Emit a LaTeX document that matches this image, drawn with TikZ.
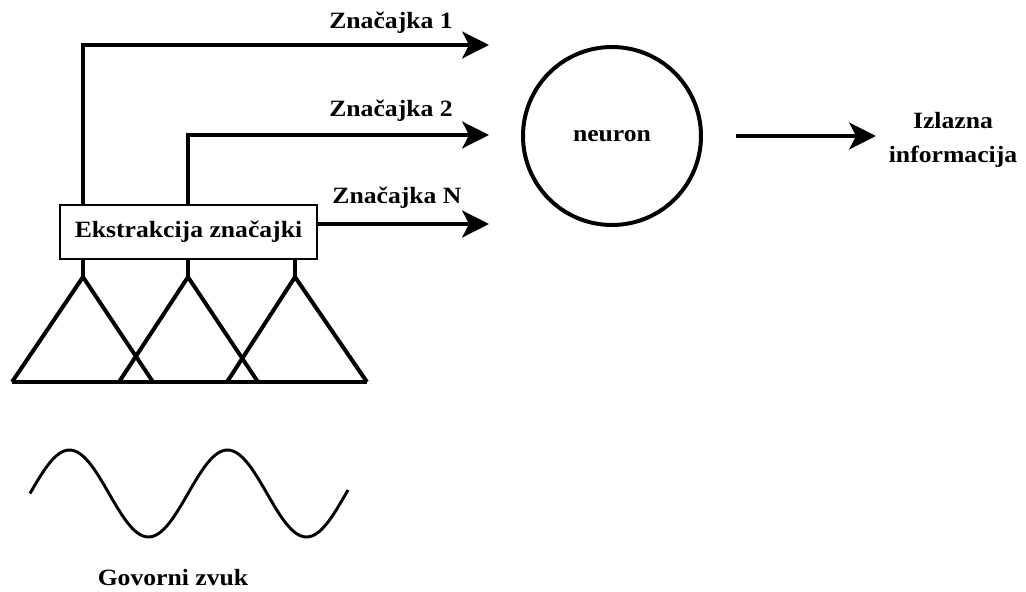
\documentclass[tikz,border=0pt]{standalone}
\usepackage{fontspec}
\setmainfont{Liberation Serif}[FakeStretch=1.1]
\usetikzlibrary{arrows.meta}
\begin{document}
\begin{tikzpicture}[x=0.75pt,y=-0.75pt,
  lbl/.style={font=\fontsize{17.5}{25}\selectfont\bfseries, inner sep=0pt, align=center},
  boxstyle/.style={draw, line width=1.8pt, minimum width=192.75pt, minimum height=40.5pt, inner sep=0pt, font=\fontsize{17.5}{20}\selectfont\bfseries},
  thk/.style={line width=3pt, line join=miter},
  arr/.style={line width=3pt, -{Stealth[length=20pt,width=20pt,inset=5pt]}}]
\useasboundingbox (0,0) rectangle (1026,592);

% feature extraction box
\node[boxstyle] (ext) at (188.5,232) {Ekstrakcija značajki};

% feature outputs
\coordinate (c1) at (83,45);
\coordinate (t1) at (489,45);
\coordinate (c2) at (188,135);
\coordinate (t2) at (489,135);
\coordinate (tN) at (489,224);
\draw[arr] (ext.north -| c1) -- (c1) -- (t1);
\draw[arr] (ext.north -| c2) -- (c2) -- (t2);
\draw[arr] (ext.east |- tN) -- (tN);

\node[lbl] (f1) at (391,23) {Značajka 1};
\node[lbl] (f2) at (391,111) {Značajka 2};
\node[lbl] (fN) at (397,198) {Značajka N};

% triangular filters
\coordinate (a1) at (83,277);
\coordinate (a2) at (188,277);
\coordinate (a3) at (295,277);
\coordinate (b1l) at (12,382);
\coordinate (b1r) at (153,382);
\coordinate (b2l) at (119,382);
\coordinate (b2r) at (258,382);
\coordinate (b3l) at (227,382);
\coordinate (b3r) at (367,382);
\draw[thk] (ext.south -| a1) -- (a1);
\draw[thk] (ext.south -| a2) -- (a2);
\draw[thk] (ext.south -| a3) -- (a3);
\draw[thk] (b1l) -- (a1) -- (b1r);
\draw[thk] (b2l) -- (a2) -- (b2r);
\draw[thk] (b3l) -- (a3) -- (b3r);
\draw[thk] (b1l) -- (b3r);

% neuron
\node[circle, draw, line width=3pt, minimum size=133.5pt, inner sep=0pt, font=\fontsize{17.5}{20}\selectfont\bfseries] (neu) at (612,136) {neuron};
\coordinate (o1) at (736,136);
\coordinate (o2) at (876,136);
\draw[arr] (o1) -- (o2);
\node[lbl] (out) at (953,140) {Izlazna\\informacija};

% speech sound
\draw[line width=2.2pt, smooth, samples=120, domain=30:348] plot (\x, {493.5-43.5*sin(2.27848*(\x-30))});
\node[lbl] (snd) at (173,578) {Govorni zvuk};
\end{tikzpicture}
\end{document}
